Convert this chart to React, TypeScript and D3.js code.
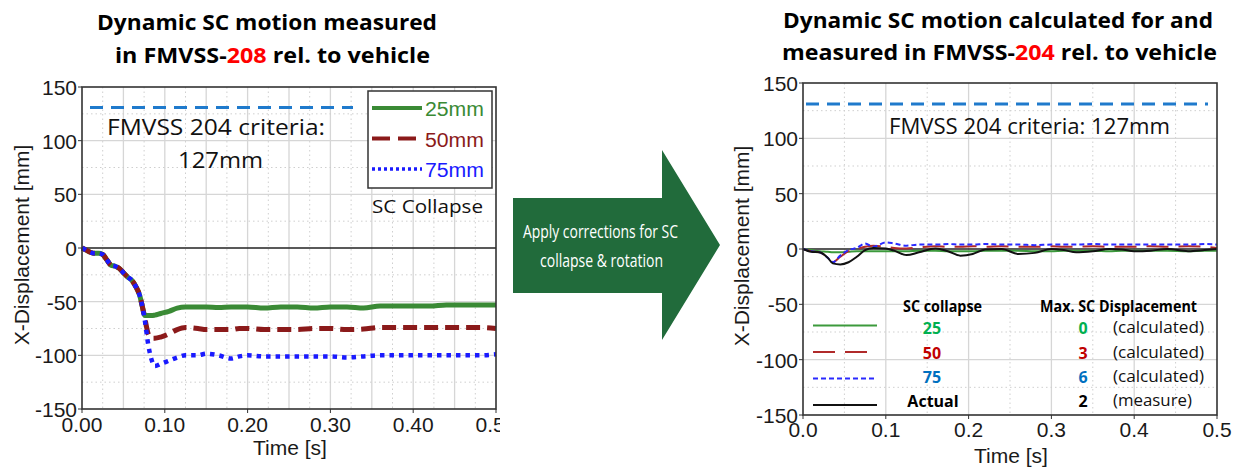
import React from "react";
import * as d3 from "d3";

// ---------- data ----------
// FMVSS-208 measured SC motion (left panel)
const timeLeft = [0, 0.005, 0.01, 0.015, 0.02, 0.025, 0.03, 0.035, 0.04, 0.045, 0.05, 0.055, 0.06, 0.065, 0.07, 0.073,
  0.076, 0.08, 0.084, 0.088, 0.095, 0.105, 0.115, 0.125, 0.14, 0.15, 0.165, 0.18, 0.19, 0.2, 0.22, 0.24, 0.26, 0.28,
  0.3, 0.32, 0.34, 0.36, 0.38, 0.4, 0.42, 0.44, 0.46, 0.48, 0.5];
const collapse25 = [0, -2, -4, -5, -5, -6, -11, -16, -17, -19, -23, -27, -30, -36, -45, -55,
  -63, -63, -63, -62.5, -61, -59, -56, -55, -55, -55, -55.5, -55, -55, -55, -56, -55, -55, -56,
  -55, -55, -56, -54, -54, -54, -54, -53, -53, -53, -53];
const collapse50 = [0, -2, -4, -5, -5, -6, -11, -16, -17, -19, -23, -27, -30, -36, -45, -55,
  -66, -80, -84, -84, -83, -80, -76, -74, -75, -76, -76, -76, -75, -75, -76, -76, -76, -75,
  -75, -76, -75.5, -74, -74, -74, -74, -74, -74, -74, -75];
const collapse75 = [0, -2, -4, -5, -5, -6, -11, -16, -17, -19, -23, -27, -30, -36, -45, -55,
  -68, -90, -104, -110, -108, -105, -102, -100, -100, -98.5, -100, -103, -101, -100, -101, -101, -101, -101,
  -101, -102, -101, -100, -100, -100, -100, -100, -100, -100, -99];

// FMVSS-204 calculated and measured SC motion (right panel)
const timeRight = [0, 0.01, 0.02, 0.03, 0.036, 0.045, 0.055, 0.065, 0.075, 0.085, 0.1, 0.11, 0.125, 0.14, 0.16, 0.175,
  0.19, 0.205, 0.22, 0.24, 0.26, 0.28, 0.3, 0.315, 0.33, 0.35, 0.37, 0.385, 0.4, 0.42, 0.44, 0.465, 0.485, 0.5];
const calc25 = [0, -1, -2, -2.5, -3, -3, -2.5, -2, -2, -2, -2, -2, -2, -1.5, -1.5, -2,
  -2, -2, -1.5, -1.5, -1.5, -2, -2, -1.5, -1.5, -1.5, -2, -1.5, -1.5, -1.5, -1.5, -2, -1.5, -1.5];
const calc50 = [0, -2, -3, -8, -12, -7, -2, 0, 2, 3, 2, 1, 0.5, 1.5, 2.5, 2,
  2, 2.5, 2, 2.5, 2, 2, 2.5, 2, 2, 2.5, 2, 2, 2, 2.5, 2, 2.5, 2, 1];
const calc75 = [0, -2, -3, -8, -12, -6, -1, 1, 5, 2, 6, 5, 3, 4, 4, 4.5,
  4, 4, 4.5, 4, 4, 3.5, 4, 4, 4, 4.5, 4, 4, 4, 4, 4, 4, 4.5, 4];
const actual = [0, -2.5, -3, -8, -13, -14, -12, -7, -1, 1, 0.5, -1.5, -5.5, -3, 0.5, -2,
  -6, -4.5, -0.5, 0, -4.5, -3.5, 0, -1, -3, -2, 0, -0.5, -2, -1.5, 0, -2, -1, 0];

const criteria = 131;
const yTicks = [150, 100, 50, 0, -50, -100, -150];
const xTicks = [0, 0.1, 0.2, 0.3, 0.4, 0.5];

const legendLeft = ["25mm", "50mm", "75mm"];
const legendRightCollapse = ["25", "50", "75", "Actual"];
const legendRightMax = ["0", "3", "6", "2"];
const legendRightNote = ["(calculated)", "(calculated)", "(calculated)", "(measure)"];

// ---------- styles ----------
const AXIS_FONT = "'Liberation Sans', Arial, sans-serif";
const TEXT_FONT = "'Open Sans', 'Noto Sans', sans-serif";

const leftStyles = [
  { color: "#3a8a35", width: 5, dash: null as string | null },
  { color: "#8b1a1a", width: 5, dash: "14,7" },
  { color: "#1a1aff", width: 4.5, dash: "4.5,5" },
];
const rightStyles = [
  { color: "#3c9a3c", width: 2, dash: null as string | null },
  { color: "#b02a2a", width: 2, dash: "22,10" },
  { color: "#2a2aff", width: 2, dash: "5,3" },
  { color: "#111111", width: 2, dash: null as string | null },
];
const legendTextColors = ["#00b050", "#c00000", "#0070c0", "#000000"];

type Series = { values: number[]; color: string; width: number; dash: string | null };

function Panel(props: {
  x0: number; x1: number; y0: number; y1: number;
  times: number[]; series: Series[];
  minorStep: number; majorEvery: number;
  tickFmt: string; tickBaseline: number;
  timeLabelY: number; yLabelX: number;
  critX0: number; critX1: number;
}) {
  const { x0, x1, y0, y1, times, series } = props;
  const x = d3.scaleLinear().domain([0, 0.5]).range([x0, x1]);
  const y = d3.scaleLinear().domain([150, -150]).range([y0, y1]);
  const nMinor = Math.round(0.5 / props.minorStep);
  const vLines = d3.range(1, nMinor).map((i) => ({ t: i * props.minorStep, major: i % props.majorEvery === 0 }));
  const hLines = d3.range(1, 12).map((i) => -150 + i * 25).filter((v) => v !== 0);
  const fmt = d3.format(props.tickFmt);
  const line = (vals: number[]) =>
    d3.line<number>()
      .x((_, i) => x(times[i]))
      .y((v) => y(v))
      .curve(d3.curveMonotoneX)(vals) || "";

  return (
    <g>
      <rect x={x0} y={y0} width={x1 - x0} height={y1 - y0} fill="#ffffff" />
      {vLines.map((g, i) => (
        <line key={"v" + i} x1={x(g.t)} x2={x(g.t)} y1={y0} y2={y1}
          stroke={g.major ? "#d6d6d6" : "#cfcfcf"} strokeWidth={g.major ? 1.3 : 1}
          strokeDasharray={g.major ? undefined : "1.5,3"} />
      ))}
      {hLines.map((v, i) => (
        <line key={"h" + i} x1={x0} x2={x1} y1={y(v)} y2={y(v)}
          stroke={v % 50 === 0 ? "#d6d6d6" : "#cfcfcf"} strokeWidth={v % 50 === 0 ? 1.3 : 1}
          strokeDasharray={v % 50 === 0 ? undefined : "1.5,3"} />
      ))}
      <line x1={x0} x2={x1} y1={y(0)} y2={y(0)} stroke="#222" strokeWidth={1.3} />
      <line x1={props.critX0} x2={props.critX1} y1={y(criteria)} y2={y(criteria)}
        stroke="#1f7acc" strokeWidth={3} strokeDasharray="13,8" />
      {series.map((s, i) => (
        <path key={"s" + i} d={line(s.values)} fill="none" stroke={s.color} strokeWidth={s.width}
          strokeDasharray={s.dash || undefined} strokeLinejoin="round" />
      ))}
      <rect x={x0} y={y0} width={x1 - x0} height={y1 - y0} fill="none" stroke="#333" strokeWidth={1.6} />
      {yTicks.map((v) => (
        <g key={"yt" + v}>
          <line x1={x0 - 4} x2={x0} y1={y(v)} y2={y(v)} stroke="#333" strokeWidth={1} />
          <text x={x0 - 5} y={y(v) + 8} textAnchor="end" fontFamily={AXIS_FONT} fontSize={21} fill="#1a1a1a">{v}</text>
        </g>
      ))}
      {xTicks.map((t) => (
        <g key={"xt" + t}>
          <line x1={x(t)} x2={x(t)} y1={y1} y2={y1 + 4} stroke="#333" strokeWidth={1} />
          <text x={x(t)} y={props.tickBaseline} textAnchor="middle" fontFamily={AXIS_FONT} fontSize={21} fill="#1a1a1a">{fmt(t)}</text>
        </g>
      ))}
      <text x={(x0 + x1) / 2 + 1} y={props.timeLabelY} textAnchor="middle" fontFamily={AXIS_FONT} fontSize={21} fill="#1a1a1a">Time [s]</text>
      <text transform={`translate(${props.yLabelX},${(y0 + y1) / 2 - 3}) rotate(-90)`} textAnchor="middle"
        fontFamily={AXIS_FONT} fontSize={21} fill="#1a1a1a">X-Displacement [mm]</text>
    </g>
  );
}

export default function App() {
  const leftSeries: Series[] = [collapse25, collapse50, collapse75].map((values, i) => ({ values, ...leftStyles[i] }));
  const rightSeries: Series[] = [calc25, calc50, calc75, actual].map((values, i) => ({ values, ...rightStyles[i] }));
  const leftRowsY = [108, 138.5, 169];
  const rightRowsY = [325.5, 352, 378.5, 405];
  const rightTextY = [334, 359, 383, 407];

  return (
    <div style={{ position: "absolute", left: 0, top: 0 }}>
      <svg width={1238} height={469} style={{ display: "block", background: "#ffffff" }}>
        <defs>
          <clipPath id="left-panel-clip">
            <rect x={0} y={0} width={500} height={469} />
          </clipPath>
        </defs>

        {/* titles */}
        <g fontFamily={TEXT_FONT} fontWeight={700} fontSize={21.5} fill="#000">
          <text x={267} y={30} textAnchor="middle" textLength={340} lengthAdjust="spacingAndGlyphs">Dynamic SC motion measured</text>
          <text x={272.5} y={63} textAnchor="middle" textLength={315} lengthAdjust="spacingAndGlyphs">
            in FMVSS-<tspan fill="#ff0000">208</tspan> rel. to vehicle
          </text>
          <text x={998} y={28} textAnchor="middle" textLength={430} lengthAdjust="spacingAndGlyphs">Dynamic SC motion calculated for and</text>
          <text x={999.5} y={60} textAnchor="middle" textLength={435} lengthAdjust="spacingAndGlyphs">
            measured in FMVSS-<tspan fill="#ff0000">204</tspan> rel. to vehicle
          </text>
        </g>

        {/* left panel */}
        <g clipPath="url(#left-panel-clip)">
          <Panel x0={82} x1={496} y0={87} y1={409} times={timeLeft} series={leftSeries}
            minorStep={0.025} majorEvery={2} tickFmt=".2f" tickBaseline={432} timeLabelY={455} yLabelX={29}
            critX0={90} critX1={353} />
          <g fontFamily={TEXT_FONT} fontSize={21} fill="#111">
            <text x={107} y={135} textLength={218} lengthAdjust="spacingAndGlyphs">FMVSS 204 criteria:</text>
            <text x={178} y={168} textLength={85} lengthAdjust="spacingAndGlyphs">127mm</text>
          </g>
          <rect x={368} y={91} width={124} height={97} fill="#ffffff" stroke="#333" strokeWidth={1.5} />
          {legendLeft.map((lab, i) => (
            <g key={lab}>
              <line x1={372} x2={422} y1={leftRowsY[i]} y2={leftRowsY[i]} stroke={leftStyles[i].color}
                strokeWidth={i === 2 ? 3.5 : 4} strokeDasharray={i === 1 ? "18,8" : i === 2 ? "3,3" : undefined} />
              <text x={425} y={leftRowsY[i] + 8} fontFamily={AXIS_FONT} fontSize={20} fill={leftStyles[i].color}
                textLength={59} lengthAdjust="spacingAndGlyphs">{lab}</text>
            </g>
          ))}
          <text x={372} y={213} fontFamily={TEXT_FONT} fontSize={18} fill="#111" textLength={111} lengthAdjust="spacingAndGlyphs">SC Collapse</text>
        </g>

        {/* arrow */}
        <polygon points="513,198 662,198 662,150 720,245 662,340 662,293 513,293" fill="#216b3b" />
        <g fontFamily={TEXT_FONT} fontSize={18} fill="#ffffff" textAnchor="middle">
          <text x={600.5} y={238} textLength={155} lengthAdjust="spacingAndGlyphs">Apply corrections for SC</text>
          <text x={601.5} y={267} textLength={123} lengthAdjust="spacingAndGlyphs">collapse &amp; rotation</text>
        </g>

        {/* right panel */}
        <Panel x0={803} x1={1217} y0={83} y1={415} times={timeRight} series={rightSeries}
          minorStep={0.05} majorEvery={2} tickFmt=".1f" tickBaseline={437} timeLabelY={463} yLabelX={749}
          critX0={806} critX1={1208} />
        <text x={889} y={134} fontFamily={TEXT_FONT} fontSize={21} fill="#111" textLength={281} lengthAdjust="spacingAndGlyphs">FMVSS 204 criteria: 127mm</text>

        <g fontFamily={TEXT_FONT} fontSize={16}>
          <text x={903} y={312} fontWeight={700} fill="#000" textLength={79} lengthAdjust="spacingAndGlyphs">SC collapse</text>
          <text x={1040} y={312} fontWeight={700} fill="#000" textLength={157} lengthAdjust="spacingAndGlyphs">Max. SC Displacement</text>
          {legendRightCollapse.map((lab, i) => (
            <g key={"rl" + i}>
              <line x1={813} x2={877} y1={rightRowsY[i]} y2={rightRowsY[i]} stroke={rightStyles[i].color}
                strokeWidth={2} strokeDasharray={rightStyles[i].dash || undefined} />
              <text x={i === 3 ? 933 : 932} y={rightTextY[i]} textAnchor="middle" fontWeight={700} fill={legendTextColors[i]}>{lab}</text>
              <text x={1083} y={rightTextY[i]} textAnchor="middle" fontWeight={700} fill={legendTextColors[i]}>{legendRightMax[i]}</text>
              <text x={1113} y={rightTextY[i] - 1} fill="#111" textLength={i === 3 ? 79 : 91} lengthAdjust="spacingAndGlyphs">{legendRightNote[i]}</text>
            </g>
          ))}
        </g>
      </svg>
    </div>
  );
}
